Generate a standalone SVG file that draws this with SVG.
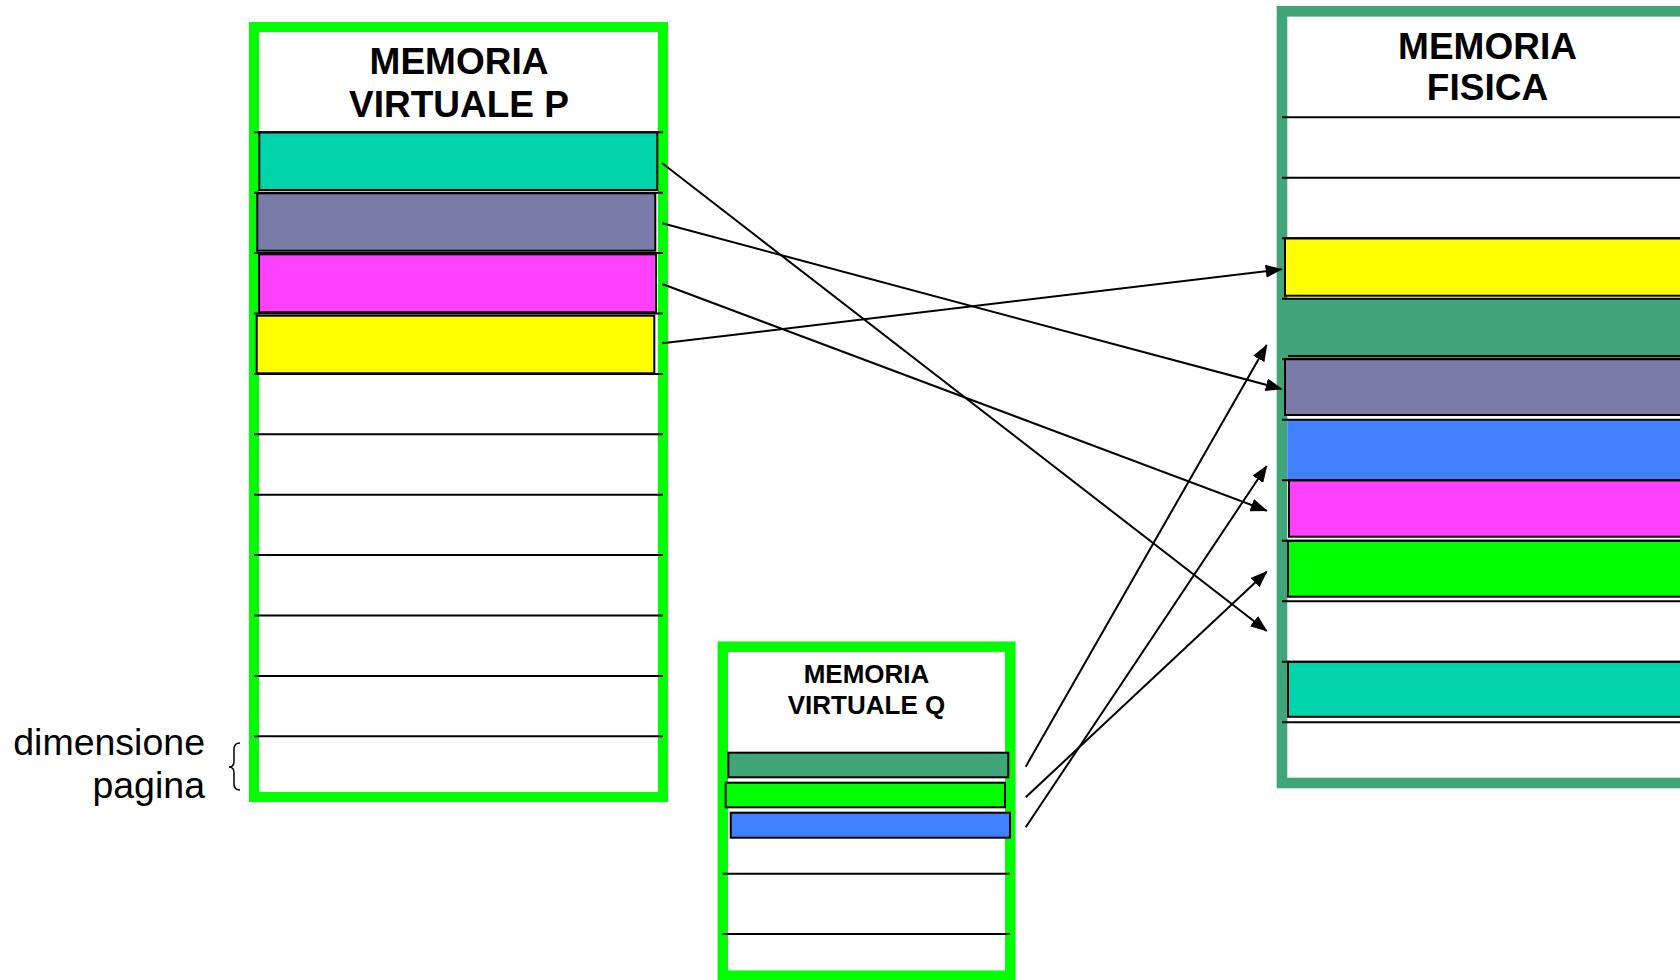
<svg xmlns="http://www.w3.org/2000/svg" width="1680" height="980" viewBox="0 0 1680 980">
<style>
.title{font-family:"Liberation Sans",Arial,sans-serif;font-weight:bold;fill:#000;text-anchor:middle}
.lbl{font-family:"Liberation Sans",Arial,sans-serif;fill:#000;text-anchor:end;font-size:37.5px}
.vbox{fill:#fff;stroke:#00FF00}
.pbox{fill:#fff;stroke:#40A67A}
.sep{stroke:#000;stroke-width:2}
.pg{stroke:#000;stroke-width:2}
.conn{stroke:#000;stroke-width:2;fill:none;marker-end:url(#ah)}
</style>
<defs>
<marker id="ah" viewBox="0 0 17 13" refX="16" refY="6.5" markerWidth="17" markerHeight="13" markerUnits="userSpaceOnUse" orient="auto">
<path d="M0,0 L17,6.5 L0,13 z" fill="#000"/>
</marker>
</defs>
<rect width="1680" height="980" fill="#fff"/>

<g id="virtual-p">
<rect class="vbox" x="254" y="27" width="409" height="770" stroke-width="10"/>
<text class="title" x="459" y="74" font-size="37">MEMORIA</text>
<text class="title" x="459" y="116.5" font-size="37">VIRTUALE P</text>
<rect class="pg" x="259.3" y="132.3" width="398" height="57.7" fill="#00D4AA"/>
<rect class="pg" x="257.3" y="193.3" width="398" height="57.4" fill="#7B7BA8"/>
<rect class="pg" x="259" y="254.3" width="397" height="58" fill="#FF40FF"/>
<rect class="pg" x="256.7" y="315.7" width="397.6" height="57.6" fill="#FFFF00"/>
<g class="sep">
<line x1="254" y1="132.3" x2="663" y2="132.3"/>
<line x1="254" y1="192.7" x2="663" y2="192.7"/>
<line x1="254" y1="253.1" x2="663" y2="253.1"/>
<line x1="254" y1="313.5" x2="663" y2="313.5"/>
<line x1="254" y1="373.9" x2="663" y2="373.9"/>
<line x1="254" y1="434.3" x2="663" y2="434.3"/>
<line x1="254" y1="494.7" x2="663" y2="494.7"/>
<line x1="254" y1="555.1" x2="663" y2="555.1"/>
<line x1="254" y1="615.5" x2="663" y2="615.5"/>
<line x1="254" y1="675.9" x2="663" y2="675.9"/>
<line x1="254" y1="736.3" x2="663" y2="736.3"/>
</g>
</g>

<g id="virtual-q">
<rect class="vbox" x="722.8" y="646.7" width="287.5" height="329" stroke-width="10.5"/>
<text class="title" x="866.5" y="683.3" font-size="26">MEMORIA</text>
<text class="title" x="866.5" y="714" font-size="26">VIRTUALE Q</text>
<rect class="pg" x="728.3" y="752.7" width="280" height="24.6" fill="#40A67A"/>
<rect class="pg" x="725.7" y="782.7" width="279.3" height="24.6" fill="#00FF00"/>
<rect class="pg" x="730.7" y="812.7" width="279.3" height="25" fill="#4080FF"/>
<g class="sep">
<line x1="722.7" y1="873.7" x2="1010" y2="873.7"/>
<line x1="722.7" y1="934" x2="1010" y2="934"/>
</g>
</g>

<g id="physical">
<rect class="pbox" x="1282" y="11.3" width="430" height="771.7" stroke-width="10.6"/>
<text class="title" x="1487.5" y="59" font-size="37">MEMORIA</text>
<text class="title" x="1487.5" y="100" font-size="37">FISICA</text>
<rect class="pg" x="1285" y="238.3" width="420" height="57.4" fill="#FFFF00"/>
<rect x="1282" y="298.8" width="420" height="60.5" fill="#40A67A"/>
<line class="sep" x1="1288" y1="356" x2="1690" y2="356" stroke-width="1.5"/>
<rect class="pg" x="1285" y="359" width="420" height="56" fill="#7B7BA8"/>
<rect x="1287.3" y="420" width="420" height="60" fill="#4080FF"/>
<rect class="pg" x="1289" y="480.3" width="420" height="56.4" fill="#FF40FF"/>
<rect class="pg" x="1288" y="540.8" width="420" height="55.9" fill="#00FF00"/>
<rect class="pg" x="1288" y="661.8" width="420" height="55" fill="#00D4AA"/>
<g class="sep">
<line x1="1282" y1="117.3" x2="1690" y2="117.3"/>
<line x1="1282" y1="177.8" x2="1690" y2="177.8"/>
<line x1="1282" y1="238.3" x2="1690" y2="238.3"/>
<line x1="1282" y1="298.8" x2="1690" y2="298.8"/>
<line x1="1282" y1="359.3" x2="1690" y2="359.3"/>
<line x1="1282" y1="419.8" x2="1690" y2="419.8"/>
<line x1="1282" y1="480.3" x2="1690" y2="480.3"/>
<line x1="1282" y1="540.8" x2="1690" y2="540.8"/>
<line x1="1282" y1="601.3" x2="1690" y2="601.3"/>
<line x1="1282" y1="661.8" x2="1690" y2="661.8"/>
<line x1="1282" y1="722.3" x2="1690" y2="722.3"/>
</g>
</g>

<g id="page-size-label">
<text class="lbl" x="205" y="755">dimensione</text>
<text class="lbl" x="205" y="798">pagina</text>
<path d="M240,743 Q234,743 234,749 L234,761 Q234,767 229,767 Q234,767 234,773 L234,784 Q234,790 240,790" fill="none" stroke="#000" stroke-width="1.5"/>
</g>

<g id="connectors">
<line class="conn" x1="662.3" y1="163.3" x2="1266.7" y2="631"/>
<line class="conn" x1="662.3" y1="223.3" x2="1281.7" y2="389"/>
<line class="conn" x1="662.3" y1="284" x2="1266.7" y2="510.7"/>
<line class="conn" x1="662.3" y1="343.3" x2="1281.7" y2="269.3"/>
<line class="conn" x1="1025.7" y1="766.7" x2="1266.7" y2="345"/>
<line class="conn" x1="1025.7" y1="797.3" x2="1266.7" y2="571.7"/>
<line class="conn" x1="1025.7" y1="827.3" x2="1266.7" y2="466"/>
</g>
</svg>
